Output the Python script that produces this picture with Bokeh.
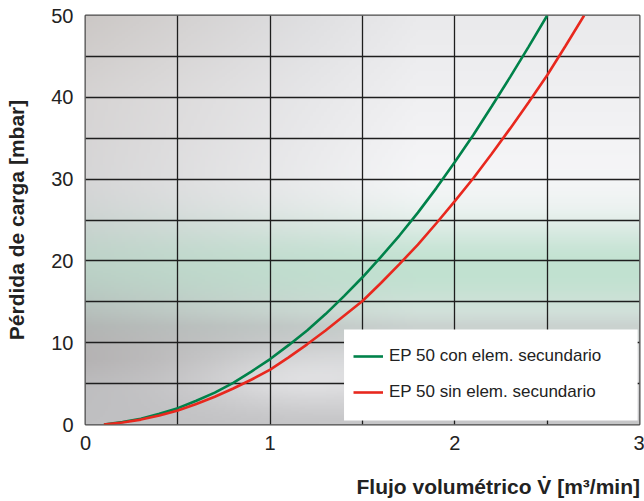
import numpy as np
from bokeh.plotting import figure
from bokeh.layouts import column
from bokeh.models import Range1d, FixedTicker, Legend, LegendItem, Div, BoxAnnotation
from bokeh.embed import file_html
from bokeh.resources import INLINE

# ---- data ----
flow_con = [0.1, 0.2, 0.3, 0.4, 0.5, 0.6, 0.7, 0.8, 0.9, 1.0, 1.1, 1.2, 1.3,
            1.4, 1.5, 1.6, 1.7, 1.8, 1.9, 2.0, 2.1, 2.2, 2.3, 2.4, 2.5]
dp_con = [0.0, 0.3, 0.7, 1.3, 2.0, 2.9, 3.9, 5.1, 6.5, 8.0, 9.7, 11.5, 13.5,
          15.7, 18.0, 20.5, 23.1, 25.9, 28.9, 32.1, 35.4, 38.9, 42.5, 46.2, 50.0]
flow_sin = [0.1, 0.2, 0.3, 0.4, 0.5, 0.6, 0.7, 0.8, 0.9, 1.0, 1.1, 1.2, 1.3, 1.4,
            1.5, 1.6, 1.7, 1.8, 1.9, 2.0, 2.1, 2.2, 2.3, 2.4, 2.5, 2.6, 2.7]
dp_sin = [0.0, 0.25, 0.6, 1.1, 1.7, 2.5, 3.4, 4.4, 5.5, 6.7, 8.2, 9.8, 11.5, 13.3,
          15.1, 17.3, 19.6, 22.0, 24.6, 27.3, 30.1, 33.1, 36.2, 39.4, 42.7, 46.3, 50.0]
x_ticks = [0, 1, 2, 3]
y_ticks = [0, 10, 20, 30, 40, 50]
x_grid = [0.5, 1.0, 1.5, 2.0, 2.5]
y_grid = [5, 10, 15, 20, 25, 30, 35, 40, 45]
label_con = "EP 50 con elem. secundario"
label_sin = "EP 50 sin elem. secundario"
x_title = "Flujo volumétrico V\u0307 [m³/min]"
y_title = "Pérdida de carga [mbar]"

FONT = "Liberation Sans"
GREEN = "#00824a"
RED = "#e8281e"
TXT = "#222222"

p = figure(width=644, height=472, output_backend="svg", toolbar_location=None,
           x_range=Range1d(0, 3), y_range=Range1d(0, 50),
           min_border_left=85, min_border_right=5, min_border_top=15, min_border_bottom=48,
           background_fill_color="white", border_fill_color="white")

# ---- decorative photo-like background ----
H, W = 200, 200
yy = np.linspace(0, 50, H)[:, None]
xx = np.linspace(0, 3, W)[None, :]
ky = [0, 4, 8, 12, 14, 20, 26, 30, 40, 50]
left = np.interp(yy[:, 0], ky, [192, 190, 178, 178, 186, 204, 212, 214, 212, 200])[:, None]
right = np.interp(yy[:, 0], ky, [198, 208, 214, 208, 228, 238, 246, 246, 240, 234])[:, None]
t = np.clip(xx / 1.8, 0, 1)
L = left * (1 - t) + right * t
# light reflections in the lower part
L = L + 22 * np.exp(-((xx - 1.15) / 0.55) ** 2) * np.exp(-((yy - 5.5) / 3.5) ** 2)
gs = np.exp(-((yy - 19.0) / 6.0) ** 2) * (0.45 + 0.22 * np.clip(xx / 1.8, 0, 1))
R = L * (1 - gs) + 172 * gs
G = L * (1 - gs) + 220 * gs
B = L * (1 - gs) + 192 * gs
warm = np.clip(1 - xx / 1.2, 0, 1) * np.clip((yy - 25) / 25, 0, 1)
warm2 = np.clip(1 - xx / 1.0, 0, 1) * np.exp(-((yy - 9.0) / 3.5) ** 2)
R = R + 4 * warm + 3 * warm2
B = B - 2 * warm + 2 * (1 - warm) - 1 * warm2
img = np.empty((H, W), dtype=np.uint32)
view = img.view(dtype=np.uint8).reshape((H, W, 4))
view[:, :, 0] = np.clip(R, 0, 255).astype(np.uint8)
view[:, :, 1] = np.clip(G, 0, 255).astype(np.uint8)
view[:, :, 2] = np.clip(B, 0, 255).astype(np.uint8)
view[:, :, 3] = 255
p.image_rgba(image=[img], x=0, y=0, dw=3, dh=50, level="image")

# ---- grid ----
p.xgrid.ticker = FixedTicker(ticks=x_grid)
p.ygrid.ticker = FixedTicker(ticks=y_grid)
p.grid.grid_line_color = "#1e1e1e"
p.grid.grid_line_width = 1.3
p.grid.grid_line_alpha = 1.0
p.grid.level = "underlay"

p.outline_line_color = "#4a4a4a"
p.outline_line_width = 2

# ---- curves ----
r_con = p.line(flow_con, dp_con, line_color=GREEN, line_width=2.6)
r_sin = p.line(flow_sin, dp_sin, line_color=RED, line_width=2.6)

# white legend panel (decoration behind the legend)
p.add_layout(BoxAnnotation(left=1.40, right=2.99, bottom=0.5, top=11.6,
                           fill_color="white", fill_alpha=1.0, line_color=None, level="annotation"))

legend = Legend(items=[LegendItem(label=label_con, renderers=[r_con]),
                       LegendItem(label=label_sin, renderers=[r_sin])],
                location=(268, 18), orientation="vertical",
                padding=10, spacing=8, label_height=28, glyph_height=28,
                glyph_width=30, label_standoff=6,
                label_text_font=FONT, label_text_font_size="17px", label_text_color=TXT,
                border_line_color=None, background_fill_alpha=0.0,
                margin=0)
p.add_layout(legend, "center")

# ---- axes ----
for ax in (p.xaxis[0], p.yaxis[0]):
    ax.axis_line_color = None
    ax.major_tick_line_color = None
    ax.minor_tick_line_color = None
    ax.major_label_text_font = FONT
    ax.major_label_text_font_size = "20px"
    ax.major_label_text_color = TXT
p.xaxis.ticker = FixedTicker(ticks=x_ticks)
p.yaxis.ticker = FixedTicker(ticks=y_ticks)
p.xaxis.major_label_standoff = 5
p.yaxis.major_label_standoff = 6

p.yaxis.axis_label = y_title
p.yaxis.axis_label_text_font = FONT
p.yaxis.axis_label_text_font_size = "21px"
p.yaxis.axis_label_text_font_style = "bold"
p.yaxis.axis_label_text_color = TXT
p.yaxis.axis_label_standoff = 20

# x axis title, right aligned below the plot
title_div = Div(text=x_title, width=640, height=29, margin=0,
                styles={"text-align": "right", "font-family": FONT, "font-size": "21px",
                        "font-weight": "bold", "color": TXT, "line-height": "29px",
                        "white-space": "nowrap"})

layout = column(p, title_div, spacing=0)
open("out.html", "w").write(file_html(layout, INLINE))
